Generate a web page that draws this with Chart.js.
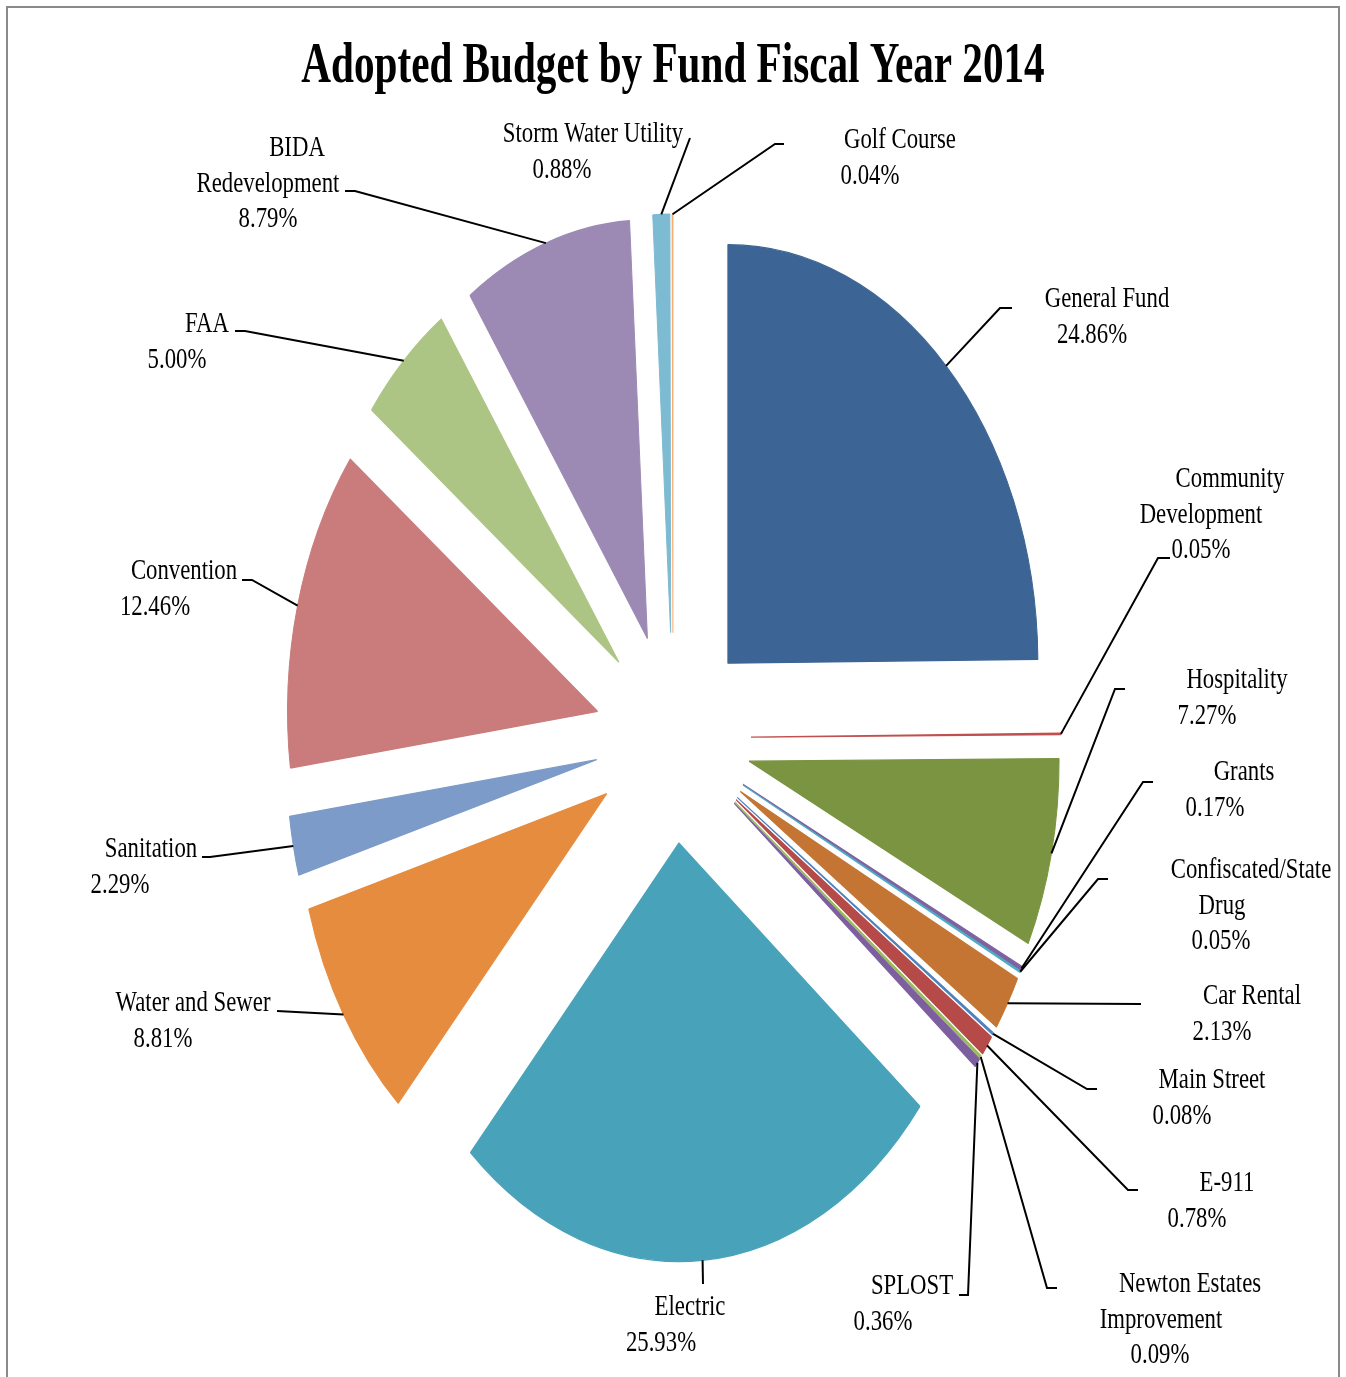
<!DOCTYPE html>
<html>
<head>
<meta charset="utf-8">
<title>Adopted Budget by Fund Fiscal Year 2014</title>
<script src="https://cdn.jsdelivr.net/npm/chart.js@4.4.1/dist/chart.umd.min.js"></script>
<style>
  html, body { margin: 0; padding: 0; background: #fff; }
  canvas { display: block; }
</style>
</head>
<body>
<canvas id="budget-pie" width="1346" height="1377"></canvas>
<script>
// funds, clockwise from 12 o'clock
const funds = [
  ["General Fund"],
  ["Community", "Development"],
  ["Hospitality"],
  ["Grants"],
  ["Confiscated/State", "Drug"],
  ["Car Rental"],
  ["Main Street"],
  ["E-911"],
  ["Newton Estates", "Improvement"],
  ["SPLOST"],
  ["Electric"],
  ["Water and Sewer"],
  ["Sanitation"],
  ["Convention"],
  ["FAA"],
  ["BIDA", "Redevelopment"],
  ["Storm Water Utility"],
  ["Golf Course"]
];
// share of adopted budget, %
const shares = [24.86, 0.05, 7.27, 0.17, 0.05, 2.13, 0.08, 0.78, 0.09, 0.36,
                25.93, 8.81, 2.29, 12.46, 5.00, 8.79, 0.88, 0.04];

const colors = ["#3C6494", "#C0504D", "#7A9442", "#7F63A1", "#4BACC6", "#C47533",
                "#4F81BD", "#B54A48", "#9BBB59", "#7D5FA0", "#48A2BA", "#E68C3F",
                "#7D9BC8", "#C97C7B", "#ADC584", "#9C8AB4", "#7DBBD2", "#F9AC71"];

// label placement: centre x of every text line, first baseline, leader elbows
const labelX = [
  [1107, 1092], [1230, 1201, 1201], [1237, 1207], [1244, 1215], [1251, 1222, 1221],
  [1252, 1222], [1212, 1182], [1227, 1197], [1190, 1161, 1160], [912, 883],
  [690, 661], [193, 163], [151, 120], [184, 155], [207, 177], [297, 268, 268],
  [593, 562], [900, 870]
];
const labelY = [307, 487, 688, 780, 878, 1004, 1088, 1191, 1292, 1294,
                1315, 1011, 857, 579, 332, 156, 142, 148];
const leaders = [
  [[1000, 308], [1012, 308]],
  [[1158, 558], [1170, 558]],
  [[1115, 689], [1125, 689]],
  [[1143, 782], [1153, 782]],
  [[1098, 879], [1108, 879]],
  [[1141, 1004]],
  [[1087, 1089], [1097, 1089]],
  [[1128, 1190], [1138, 1190]],
  [[1047, 1288], [1057, 1288]],
  [[968, 1295], [959, 1295]],
  [[703, 1284]],
  [[277, 1011]],
  [[210, 857], [202, 857]],
  [[252, 580], [242, 580]],
  [[245, 331], [235, 331]],
  [[355, 191], [345, 191]],
  [[690, 138]],
  [[775, 144], [784, 144]]
];

const RADIUS = 310;
const EXPLODE = 78;       // how far every slice is pulled out
const STRETCH_Y = 1.35;   // pie is drawn taller than wide
const SERIF = "'Liberation Serif', 'Times New Roman', serif";

function condensedText(ctx, text, x, y, font, squeeze) {
  ctx.save();
  ctx.font = font;
  ctx.translate(x, y);
  ctx.scale(squeeze, 1);
  ctx.fillText(text, 0, 0);
  ctx.restore();
}

function pieCenter(chart) {
  const a = chart.chartArea;
  return {cx: (a.left + a.right) / 2, cy: (a.top + a.bottom) / 2};
}

const frame = {
  id: "frame",
  beforeDraw(chart) {
    const ctx = chart.ctx;
    ctx.save();
    ctx.fillStyle = "#fff";
    ctx.fillRect(0, 0, chart.width, chart.height);
    ctx.strokeStyle = "#8a8a8a";
    ctx.lineWidth = 2;
    ctx.strokeRect(7, 7, 1332, 1420);
    ctx.fillStyle = "#000";
    ctx.textAlign = "center";
    ctx.textBaseline = "alphabetic";
    condensedText(ctx, "Adopted Budget by Fund Fiscal Year 2014", 673, 82, "bold 56px " + SERIF, 0.735);
    ctx.restore();
  }
};

// exploded slices: move each arc out along its middle angle, then stretch vertically
const ellipse = {
  id: "ellipse",
  afterUpdate(chart) {
    const {cx, cy} = pieCenter(chart);
    chart.getDatasetMeta(0).data.forEach(arc => {
      const mid = (arc.startAngle + arc.endAngle) / 2;
      arc.x = cx + Math.cos(mid) * EXPLODE;
      arc.y = cy + Math.sin(mid) * EXPLODE;
    });
  },
  beforeDatasetsDraw(chart) {
    const {cx, cy} = pieCenter(chart);
    const ctx = chart.ctx;
    ctx.save();
    ctx.translate(cx, cy);
    ctx.scale(1, STRETCH_Y);
    ctx.translate(-cx, -cy);
  },
  afterDatasetsDraw(chart) {
    chart.ctx.restore();
  }
};

const sliceLabels = {
  id: "sliceLabels",
  afterDraw(chart) {
    const ctx = chart.ctx;
    const {cy} = pieCenter(chart);
    const meta = chart.getDatasetMeta(0);
    ctx.save();
    meta.data.forEach((arc, i) => {
      const mid = (arc.startAngle + arc.endAngle) / 2;
      const r = arc.outerRadius;
      const sx = arc.x + Math.cos(mid) * r;
      const sy = cy + (arc.y - cy + Math.sin(mid) * r) * STRETCH_Y;
      ctx.beginPath();
      ctx.moveTo(sx, sy);
      leaders[i].forEach(p => ctx.lineTo(p[0], p[1]));
      ctx.strokeStyle = "#000";
      ctx.lineWidth = 2;
      ctx.stroke();

      const lines = funds[i].concat([shares[i].toFixed(2) + "%"]);
      ctx.fillStyle = "#000";
      ctx.textAlign = "center";
      lines.forEach((t, j) => {
        condensedText(ctx, t, labelX[i][j], labelY[i] + j * 35.5, "29px " + SERIF, 0.785);
      });
    });
    ctx.restore();
  }
};

new Chart("budget-pie", {
  type: "pie",
  data: {
    labels: funds,
    datasets: [{
      data: shares,
      backgroundColor: colors,
      borderColor: colors,
      borderWidth: 1
    }]
  },
  options: {
    responsive: false,
    animation: false,
    events: [],
    devicePixelRatio: 1,
    radius: RADIUS,
    layout: {padding: {top: 99, bottom: 0, left: 0, right: 0}},
    plugins: {
      legend: {display: false},
      title: {display: false},
      tooltip: {enabled: false}
    }
  },
  plugins: [frame, ellipse, sliceLabels]
});
</script>
</body>
</html>
